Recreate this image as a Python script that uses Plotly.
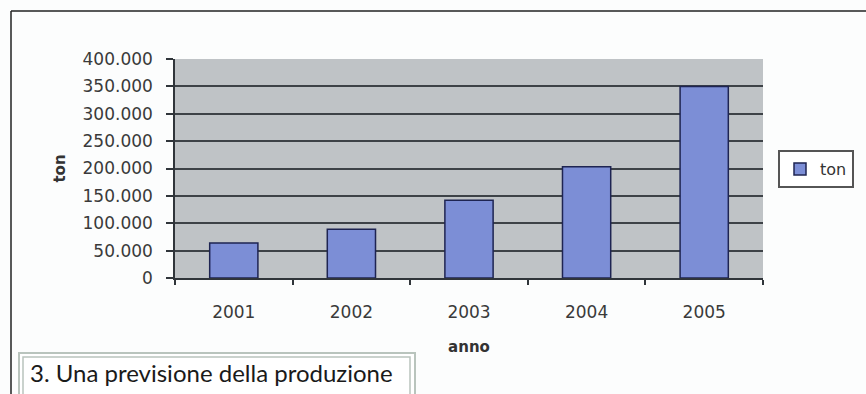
import plotly.graph_objects as go

anni = ["2001", "2002", "2003", "2004", "2005"]
ton = [64000, 89000, 142000, 203000, 350000]
y_ticks = [0, 50000, 100000, 150000, 200000, 250000, 300000, 350000, 400000]
y_labels = ["0", "50.000", "100.000", "150.000", "200.000", "250.000", "300.000", "350.000", "400.000"]
caption = "3. Una previsione della produzione"

W, H = 866, 394
L, R, T, B = 175, 763, 59, 278

def px_x(p):
    return (p - L) / (R - L)

def px_y(p):
    return (B - p) / (B - T)

fig = go.Figure()
fig.add_trace(go.Bar(
    x=anni, y=ton, name="ton",
    marker=dict(color="#7c8ed6", line=dict(color="#1e2452", width=1.5)),
))

dark = "#30353a"
fig.update_layout(
    width=W, height=H,
    margin=dict(l=L, r=W - R, t=T, b=H - B),
    paper_bgcolor="#fcfdfd",
    plot_bgcolor="#bfc3c6",
    bargap=0.59,
    font=dict(family="DejaVu Sans", color="#333333"),
    showlegend=True,
    legend=dict(
        x=px_x(778), y=px_y(150), xanchor="left", yanchor="top",
        bordercolor="#555555", borderwidth=2, bgcolor="#ffffff",
        font=dict(size=16, color="#333333"),
        itemwidth=30, tracegroupgap=0,
    ),
    xaxis=dict(
        showline=True, linecolor=dark, linewidth=1.5,
        ticks="outside", tickson="boundaries", ticklen=5, tickcolor=dark, tickwidth=1.5,
        tickfont=dict(size=17, color="#3a3a3a"), ticklabelstandoff=18,
        showgrid=False,
        title=dict(text="<b>anno</b>", font=dict(size=15, color="#333333"), standoff=20),
    ),
    yaxis=dict(
        range=[0, 400000],
        tickvals=y_ticks, ticktext=y_labels,
        showline=True, linecolor=dark, linewidth=1.5,
        ticks="outside", ticklen=7, tickcolor=dark, tickwidth=1.5,
        tickfont=dict(size=17, color="#3a3a3a"), ticklabelstandoff=10,
        showgrid=True, gridcolor="#3d4247", gridwidth=1.8,
        zeroline=False,
        title=dict(text="<b>ton</b>", font=dict(size=15, color="#333333"), standoff=13),
    ),
)

# outer chart border (top and left)
fig.add_shape(type="line", xref="paper", yref="paper",
              x0=px_x(11), x1=px_x(W + 5), y0=px_y(11), y1=px_y(11),
              line=dict(color="#222222", width=1.5))
fig.add_shape(type="line", xref="paper", yref="paper",
              x0=px_x(11), x1=px_x(11), y0=px_y(11), y1=px_y(H + 5),
              line=dict(color="#222222", width=1.5))

# caption box (double border)
fig.add_shape(type="rect", xref="paper", yref="paper",
              x0=px_x(19), x1=px_x(415), y0=px_y(353), y1=px_y(H + 10),
              line=dict(color="#b9c4bd", width=2), fillcolor="#ffffff")
fig.add_shape(type="rect", xref="paper", yref="paper",
              x0=px_x(23), x1=px_x(410), y0=px_y(357), y1=px_y(H + 10),
              line=dict(color="#b9c4bd", width=1.5))
fig.add_annotation(text=caption, xref="paper", yref="paper",
                   x=px_x(28), y=px_y(372), xanchor="left", yanchor="middle",
                   showarrow=False, font=dict(family="Lato", size=24, color="#1a1a1a"))

fig.write_html("out.html")
